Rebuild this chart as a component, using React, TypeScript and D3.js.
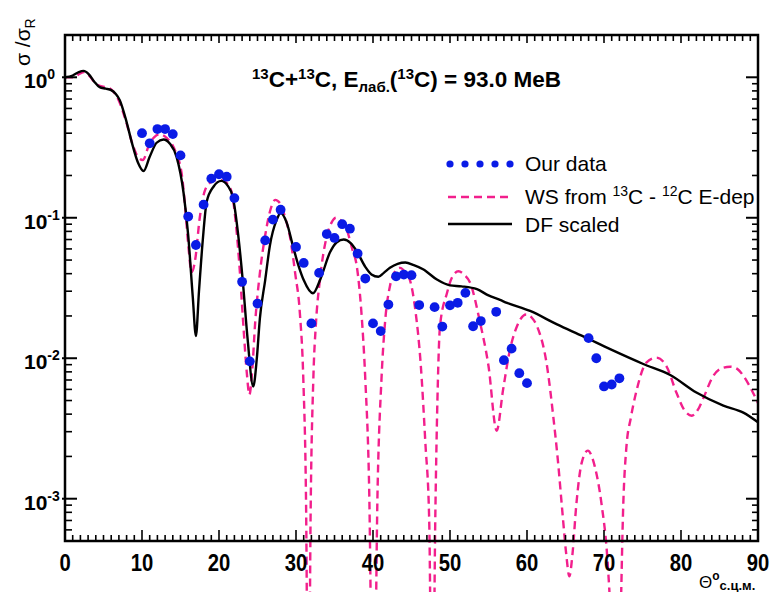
import React from 'react';
import * as d3 from 'd3';

// measured angular distribution, theta (deg, c.m.) and sigma/sigma_R
const ourTheta = [10, 11, 12, 13, 14, 15, 16, 17, 18, 19, 20, 21, 22, 23, 24, 25, 26, 27, 28,
  30, 31, 32, 33, 34, 35, 36, 37, 38, 39, 40, 41, 42, 43, 44, 45, 46,
  48, 49, 50, 51, 52, 53, 54, 56, 57, 58, 59, 60, 68, 69, 70, 71, 72];
const ourRatio = [0.40, 0.339, 0.428, 0.428, 0.394, 0.278, 0.102, 0.064, 0.124, 0.19,
  0.204, 0.196, 0.138, 0.035, 0.0095, 0.0245, 0.069, 0.097, 0.114,
  0.062, 0.0477, 0.0177, 0.0405, 0.0766, 0.0718, 0.090, 0.0836, 0.0556, 0.0369,
  0.0177, 0.0156, 0.0241, 0.0383, 0.0394, 0.039, 0.0239,
  0.0231, 0.0168, 0.0238, 0.0248, 0.0292, 0.0169, 0.0184,
  0.0214, 0.00968, 0.0117, 0.00783, 0.00665,
  0.0139, 0.0100, 0.0063, 0.0065, 0.0072];

// DF scaled (solid black)
const dfCurve: [number, number][] = [
  [0, 1.0], [1, 1.03], [1.8, 1.09], [2.4, 1.11], [3.1, 1.05], [3.8, 0.93], [4.5, 0.85], [5.3, 0.83],
  [6, 0.81], [6.6, 0.76], [7.1, 0.69], [8, 0.48], [8.7, 0.34], [9.5, 0.245], [10.2, 0.215], [11, 0.272],
  [11.9, 0.342], [12.8, 0.361], [13.6, 0.338], [14.5, 0.27], [15.4, 0.15], [16, 0.075], [16.6, 0.027],
  [17, 0.0144], [17.4, 0.03], [17.9, 0.07], [18.4, 0.13], [19.3, 0.167], [20.3, 0.183], [21.1, 0.17],
  [21.8, 0.14], [22.5, 0.075], [23.1, 0.035], [23.7, 0.014], [24.45, 0.0063], [24.9, 0.0098], [25.3, 0.019],
  [26, 0.036], [26.6, 0.063], [27.5, 0.097], [28, 0.108], [28.8, 0.092], [29.6, 0.063], [30.3, 0.046],
  [31, 0.036], [32.2, 0.029], [33.2, 0.037], [34.4, 0.0565], [35.3, 0.067], [36.2, 0.07], [37.1, 0.066],
  [37.9, 0.0577], [39, 0.0447], [39.8, 0.0395], [40.7, 0.038], [41.4, 0.0405], [42.2, 0.044], [43.2, 0.047],
  [44.2, 0.048], [45.3, 0.046], [46.5, 0.043], [48.3, 0.0363], [50, 0.033], [51.5, 0.0325], [53.5, 0.031],
  [55, 0.028], [56.5, 0.026], [57.4, 0.0248], [60.4, 0.0217], [63.9, 0.0174], [67.3, 0.0143], [70.8, 0.0116],
  [75.1, 0.0091], [78.6, 0.0076], [82, 0.0057], [85.5, 0.0046], [88.1, 0.0041], [90, 0.0035],
];

// WS from 13C-12C E-dep (dashed pink); deep minima drop far below the frame
const wsCurve: [number, number][] = [
  [0, 1.0], [1.2, 1.0], [1.9, 1.06], [2.5, 1.09], [3.2, 1.02], [4, 0.9], [4.8, 0.86], [5.5, 0.85],
  [6.2, 0.8], [7, 0.68], [8, 0.47], [8.8, 0.33], [9.5, 0.27], [10.1, 0.258], [11, 0.34], [11.6, 0.375],
  [12.3, 0.394], [13.2, 0.37], [14.3, 0.30], [15.2, 0.197], [15.6, 0.12], [16, 0.065], [16.45, 0.041],
  [16.9, 0.05], [17.5, 0.1], [18.2, 0.158], [19, 0.18], [19.9, 0.186], [20.8, 0.18], [21.6, 0.155],
  [22.2, 0.09], [22.7, 0.042], [23.2, 0.016], [23.6, 0.008], [23.95, 0.0055], [24.3, 0.008], [24.7, 0.018],
  [25.3, 0.04], [26, 0.075], [26.7, 0.115], [27.3, 0.134], [28, 0.125], [28.6, 0.1], [29.2, 0.074],
  [29.9, 0.04], [30.5, 0.021], [30.95, 0.0071], [31.3, 0.001], [31.62, 1e-5], [31.9, 0.0008], [32.25, 0.0071],
  [32.6, 0.018], [33.1, 0.036], [34, 0.074], [34.6, 0.092], [35.2, 0.1], [35.9, 0.095], [36.6, 0.082],
  [37.3, 0.06], [37.9, 0.045], [38.5, 0.021], [39, 0.0071], [39.5, 0.0012], [40.05, 1e-5], [40.6, 0.0012],
  [41.1, 0.0071], [41.6, 0.019], [42.2, 0.0326], [42.8, 0.041], [43.5, 0.044], [44.2, 0.041], [44.8, 0.036],
  [45.5, 0.022], [46.2, 0.009], [46.8, 0.0025], [47.3, 0.0007], [47.7, 1e-5], [48.1, 0.0008], [48.4, 0.006],
  [48.7, 0.0169], [49.6, 0.029], [50.3, 0.038], [51.1, 0.0416], [51.9, 0.039], [52.6, 0.0346], [53.9, 0.018],
  [55, 0.0088], [56.06, 0.00305], [56.9, 0.006], [57.8, 0.0116], [58.7, 0.0169], [59.9, 0.0205], [60.6, 0.0195],
  [61.3, 0.0169], [62.6, 0.0088], [63.4, 0.0039], [64, 0.0019], [64.6, 0.0008], [65.1, 0.0004], [65.5, 0.00028],
  [65.9, 0.0004], [66.4, 0.0009], [67.1, 0.0018], [67.9, 0.0022], [68.8, 0.0017], [69.7, 0.0009], [70.4, 0.0004],
  [71, 0.0001], [71.6, 1e-5], [72.1, 0.0001], [72.5, 0.0009], [72.9, 0.0023], [73.5, 0.0038], [74.2, 0.0058],
  [75.5, 0.0093], [76.8, 0.0101], [78.1, 0.0088], [79.4, 0.0057], [80.4, 0.0043], [81.4, 0.0039], [82.2, 0.0043],
  [82.9, 0.0052], [84.2, 0.0075], [85.3, 0.0085], [86.4, 0.0087], [87.3, 0.0084], [88.1, 0.0075], [89, 0.0062],
  [90, 0.0048],
];

const xTickLabels = [0, 10, 20, 30, 40, 50, 60, 70, 80, 90];
const yDecades = [0, -1, -2, -3];

const W = 771;
const H = 592;
const left = 65, right = 758, top = 35, bottom = 541;
const FONT = "'Liberation Sans', Arial, sans-serif";
const PINK = '#f21f8c';
const BLUE = '#0a1be6';

export default function App() {
  const x = d3.scaleLinear().domain([0, 90]).range([left, right]);
  const y = d3.scaleLog().domain([5e-4, 2]).range([bottom, top]);

  const line = d3.line<[number, number]>()
    .x(d => x(d[0]))
    .y(d => y(d[1]))
    .curve(d3.curveMonotoneX);

  const xMinor = d3.range(0, 91, 1);
  const yMinor: number[] = [];
  for (let e = -4; e <= 0; e++) {
    for (let k = 2; k <= 9; k++) {
      const v = k * Math.pow(10, e);
      if (v >= 5e-4 && v <= 2) yMinor.push(v);
    }
  }

  const stroke = '#000';

  return (
    <svg width={W} height={H} style={{ position: 'absolute', left: 0, top: 0, background: '#fff' }}
      fontFamily={FONT}>
      <rect x={0} y={0} width={W} height={H} fill="#fff" />

      {/* curves */}
      <path d={line(wsCurve) || ''} fill="none" stroke={PINK} strokeWidth={2.4} strokeDasharray="8,5" />
      <path d={line(dfCurve) || ''} fill="none" stroke="#000" strokeWidth={2.4} />

      {/* data points */}
      {ourTheta.map((t, i) => (
        <circle key={i} cx={x(t)} cy={y(ourRatio[i])} r={4.9} fill={BLUE} />
      ))}

      {/* frame */}
      <rect x={left} y={top} width={right - left} height={bottom - top} fill="none" stroke={stroke} strokeWidth={2.5} />

      {/* x ticks, bottom and top */}
      {xMinor.map(t => {
        const major = t % 10 === 0;
        const len = major ? 11 : 6;
        return (
          <g key={'xt' + t}>
            <line x1={x(t)} x2={x(t)} y1={bottom} y2={bottom - len} stroke={stroke} strokeWidth={1.6} />
            <line x1={x(t)} x2={x(t)} y1={top} y2={top + (major ? 8 : 6)} stroke={stroke} strokeWidth={1.6} />
          </g>
        );
      })}

      {/* y ticks, left and right */}
      {yDecades.map(e => (
        <g key={'ym' + e}>
          <line x1={left - 3} x2={left + 12} y1={y(Math.pow(10, e))} y2={y(Math.pow(10, e))} stroke={stroke} strokeWidth={2} />
          <line x1={right} x2={right - 12} y1={y(Math.pow(10, e))} y2={y(Math.pow(10, e))} stroke={stroke} strokeWidth={2} />
        </g>
      ))}
      {yMinor.map((v, i) => (
        <g key={'yn' + i}>
          <line x1={left} x2={left + 7} y1={y(v)} y2={y(v)} stroke={stroke} strokeWidth={1.6} />
          <line x1={right} x2={right - 6} y1={y(v)} y2={y(v)} stroke={stroke} strokeWidth={1.6} />
        </g>
      ))}

      {/* x tick labels */}
      {xTickLabels.map(t => (
        <text key={'xl' + t} transform={`translate(${x(t)},571) scale(0.88,1)`} textAnchor="middle"
          fontSize={23} fontWeight="bold">{t}</text>
      ))}

      {/* y tick labels */}
      {yDecades.map(e => (
        <text key={'yl' + e} x={24} y={y(Math.pow(10, e)) + 11} fontSize={21} fontWeight="bold">
          10<tspan dy={-9} fontSize={14}>{e}</tspan>
        </text>
      ))}

      {/* axis titles */}
      <text transform="translate(30,66) rotate(-90)" fontSize={21}>
        σ /σ<tspan dy={5} fontSize={14}>R</tspan>
      </text>
      <text x={699} y={588} fontSize={17}>
        Θ<tspan dy={-8} fontSize={12} fontWeight="bold">o</tspan>
        <tspan dy={10} fontSize={13} fontWeight="bold">с.ц.м.</tspan>
      </text>

      {/* title */}
      <text x={252} y={87} fontSize={22.5} fontWeight="bold">
        <tspan fontSize={15} dy={-8}>13</tspan>
        <tspan dy={8}>C+</tspan>
        <tspan fontSize={15} dy={-8}>13</tspan>
        <tspan dy={8}>C, E</tspan>
        <tspan fontSize={15} dy={5}>лаб.</tspan>
        <tspan dy={-5}>(</tspan>
        <tspan fontSize={15} dy={-8}>13</tspan>
        <tspan dy={8}>C) = 93.0 MeB</tspan>
      </text>

      {/* legend */}
      {[450, 465, 480, 495, 510].map(cx => (
        <circle key={'ld' + cx} cx={cx} cy={164} r={3.6} fill={BLUE} />
      ))}
      <text x={525} y={171} fontSize={21}>Our data</text>
      <line x1={448} x2={512} y1={197} y2={197} stroke={PINK} strokeWidth={2.4} strokeDasharray="8,5" />
      <text x={525} y={204} fontSize={21}>
        WS from <tspan fontSize={14} dy={-8}>13</tspan><tspan dy={8}>C - </tspan>
        <tspan fontSize={14} dy={-8}>12</tspan><tspan dy={8}>C E-dep</tspan>
      </text>
      <line x1={448} x2={512} y1={224} y2={224} stroke="#000" strokeWidth={2.4} />
      <text x={525} y={232} fontSize={21}>DF scaled</text>
    </svg>
  );
}
